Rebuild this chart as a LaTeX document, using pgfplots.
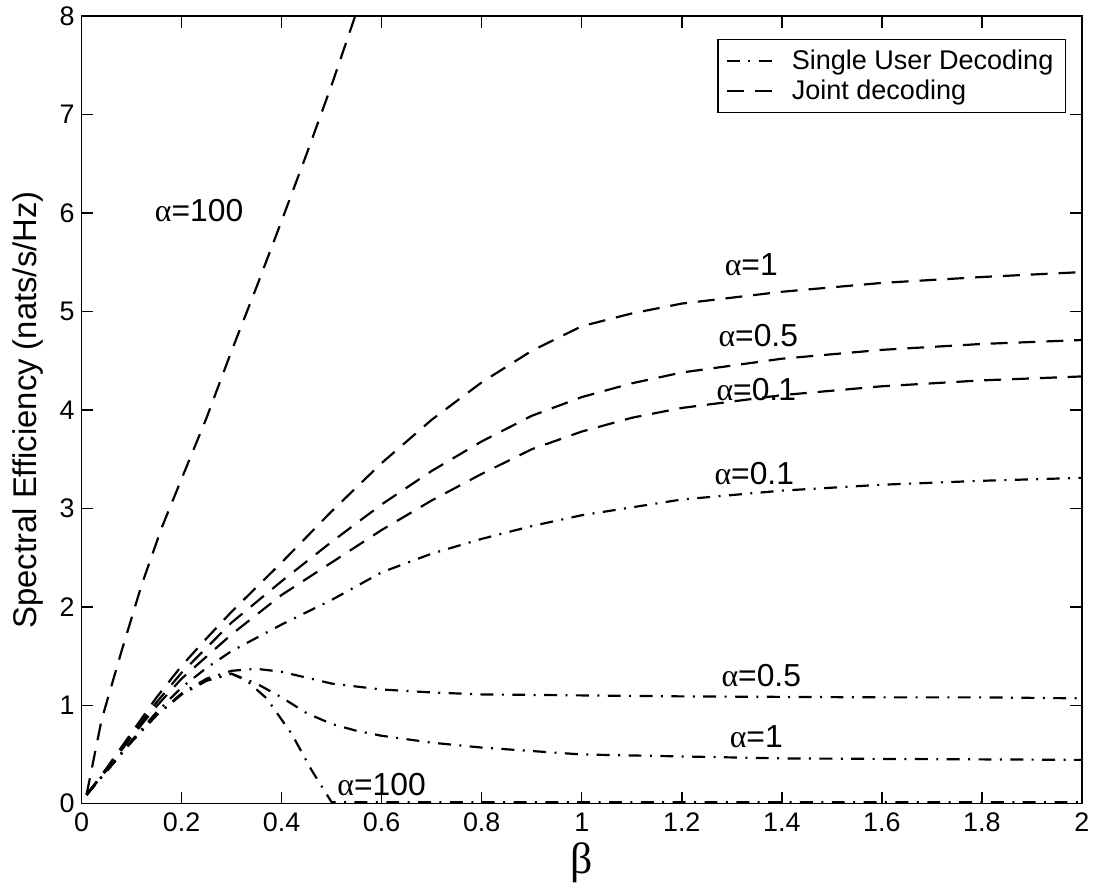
\documentclass[border=0pt]{standalone}
\usepackage{fontspec}
\setmainfont{Liberation Sans}
\newfontfamily\grk{Liberation Serif}
\usepackage{pgfplots}
\pgfplotsset{compat=1.18}
\newcommand{\al}{{\grk α}}
\begin{document}
\begin{tikzpicture}
\begin{axis}[
  scale only axis, width=503pt, height=396pt,
  xmin=0, xmax=2, ymin=0, ymax=8,
  xtick={0,0.2,0.4,0.6,0.8,1,1.2,1.4,1.6,1.8,2},
  xticklabels={0,0.2,0.4,0.6,0.8,1,1.2,1.4,1.6,1.8,2},
  ytick={0,1,2,3,4,5,6,7,8},
  tick align=inside, xtick pos=both, ytick pos=both,
  major tick length=6pt,
  axis line style={line width=0.75pt},
  every tick/.style={black, line width=0.75pt},
  tick label style={font=\fontsize{13.5}{16}\selectfont},
  xticklabel style={yshift=-1pt},
  /pgf/number format/assume math mode=true,
  xlabel={\grk β},
  xlabel style={font=\fontsize{22}{25}\selectfont, at={(axis description cs:0.5,-0.0745)}, anchor=center},
  ylabel={Spectral Efficiency (nats/s/Hz)},
  ylabel style={font=\fontsize{16.5}{19}\selectfont, at={(axis description cs:-0.0537,0.5)}, anchor=center},
  legend style={at={(0.984,0.971)}, anchor=north east, draw=black, line width=0.6pt,
    font=\fontsize{13.6}{15}\selectfont, inner xsep=4pt, inner ysep=3pt, row sep=0pt, cells={anchor=west}},
  legend image code/.code={\draw[#1] (0pt,0pt) -- (25pt,0pt); \path (30pt,0pt);},
  sud/.style={black, line width=1.1pt, dash pattern=on 6.5pt off 4.25pt on 1pt off 4.25pt},
  jd/.style={black, line width=1.1pt, dash pattern=on 8.5pt off 5.5pt},
]
% Single user decoding
\addplot[sud] coordinates {(0.01,0.09)(0.05,0.33)(0.1,0.64)(0.15,0.93)(0.2,1.18)(0.25,1.38)(0.3,1.55)(0.4,1.82)(0.5,2.07)(0.6,2.35)(0.7,2.54)(0.8,2.69)(0.9,2.82)(1.0,2.93)(1.2,3.09)(1.4,3.18)(1.6,3.24)(1.8,3.28)(2.0,3.31)};
\addlegendentry{Single User Decoding}
\addplot[sud, forget plot] coordinates {(0.01,0.09)(0.05,0.33)(0.1,0.63)(0.15,0.9)(0.2,1.12)(0.25,1.27)(0.3,1.35)(0.35,1.37)(0.4,1.34)(0.45,1.28)(0.5,1.22)(0.6,1.16)(0.7,1.13)(0.8,1.11)(1.0,1.10)(1.2,1.09)(1.4,1.085)(1.6,1.08)(1.8,1.08)(2.0,1.07)};
\addplot[sud, forget plot] coordinates {(0.01,0.09)(0.05,0.33)(0.1,0.63)(0.15,0.9)(0.2,1.11)(0.25,1.25)(0.3,1.32)(0.35,1.22)(0.4,1.08)(0.45,0.92)(0.5,0.81)(0.55,0.74)(0.6,0.69)(0.7,0.62)(0.8,0.57)(1.0,0.5)(1.2,0.48)(1.4,0.46)(1.6,0.455)(1.8,0.45)(2.0,0.445)};
\addplot[sud, forget plot] coordinates {(0.01,0.09)(0.05,0.33)(0.1,0.63)(0.15,0.9)(0.2,1.11)(0.25,1.25)(0.3,1.32)(0.33,1.25)(0.37,1.07)(0.42,0.71)(0.46,0.34)(0.5,0.015)(0.8,0.015)(1.2,0.015)(1.6,0.015)(2.0,0.015)};
% Joint decoding
\addplot[jd] coordinates {(0.01,0.09)(0.04,0.85)(0.08,1.55)(0.12,2.22)(0.16,2.8)(0.2,3.3)(0.25,3.92)(0.3,4.6)(0.35,5.25)(0.4,5.92)(0.45,6.6)(0.5,7.3)(0.547,8.0)};
\addlegendentry{Joint decoding}
\addplot[jd, forget plot] coordinates {(0.01,0.09)(0.05,0.36)(0.1,0.72)(0.15,1.08)(0.2,1.4)(0.25,1.68)(0.3,1.95)(0.4,2.45)(0.5,2.97)(0.6,3.46)(0.7,3.9)(0.8,4.28)(0.9,4.6)(1.0,4.85)(1.1,4.98)(1.2,5.08)(1.4,5.2)(1.6,5.29)(1.8,5.35)(2.0,5.40)};
\addplot[jd, forget plot] coordinates {(0.01,0.09)(0.05,0.35)(0.1,0.7)(0.15,1.03)(0.2,1.33)(0.3,1.84)(0.4,2.26)(0.5,2.66)(0.6,3.04)(0.7,3.38)(0.8,3.68)(0.9,3.94)(1.0,4.13)(1.1,4.27)(1.2,4.38)(1.4,4.52)(1.6,4.61)(1.8,4.67)(2.0,4.71)};
\addplot[jd, forget plot] coordinates {(0.01,0.09)(0.05,0.34)(0.1,0.68)(0.15,0.99)(0.2,1.27)(0.3,1.72)(0.4,2.12)(0.5,2.45)(0.6,2.78)(0.7,3.08)(0.8,3.35)(0.9,3.6)(1.0,3.78)(1.1,3.92)(1.2,4.02)(1.4,4.15)(1.6,4.24)(1.8,4.3)(2.0,4.34)};
% labels
\node[font=\fontsize{16}{19}\selectfont] at (axis cs:0.235,6.03) {\al=100};
\node[font=\fontsize{16}{19}\selectfont] at (axis cs:1.339,5.47) {\al=1};
\node[font=\fontsize{16}{19}\selectfont] at (axis cs:1.353,4.76) {\al=0.5};
\node[font=\fontsize{16}{19}\selectfont] at (axis cs:1.349,4.21) {\al=0.1};
\node[font=\fontsize{16}{19}\selectfont] at (axis cs:1.345,3.35) {\al=0.1};
\node[font=\fontsize{16}{19}\selectfont] at (axis cs:1.359,1.30) {\al=0.5};
\node[font=\fontsize{16}{19}\selectfont] at (axis cs:1.349,0.68) {\al=1};
\node[font=\fontsize{16}{19}\selectfont] at (axis cs:0.6,0.19) {\al=100};
\end{axis}
\path (current axis.south west) ++(-41pt,-41pt);
\path (current axis.north east) ++(4pt,6pt);
\end{tikzpicture}
\end{document}
